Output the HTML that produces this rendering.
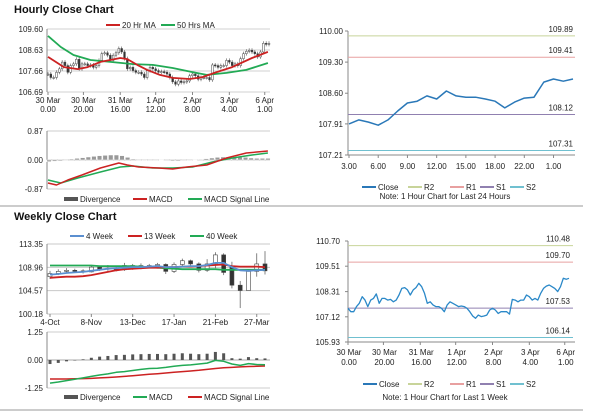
<!DOCTYPE html>
<html><head><meta charset="utf-8"><style>
body{margin:0;background:#fff;width:600px;height:413px;overflow:hidden}
svg{display:block;font-family:"Liberation Sans",sans-serif}
text{font-size:8px;fill:#222}
.t{font-size:11px;font-weight:bold;fill:#111}
</style></head><body>
<svg id="s" width="600" height="413" viewBox="0 0 600 413">
<text class="t" x="14" y="13">Hourly Close Chart</text>
<text class="t" x="14" y="220">Weekly Close Chart</text>
<line x1="0" y1="206" x2="583" y2="206" stroke="#999" stroke-width="1"/>
<line x1="0" y1="410" x2="583" y2="410" stroke="#999" stroke-width="1"/>
</svg>
<script>
// ---- data ----
const hourClose=[107.52,107.36,107.36,107.60,107.76,108.07,107.91,107.60,107.91,107.99,108.20,107.76,107.99,107.99,107.91,107.94,107.83,107.91,108.15,108.46,108.50,108.39,108.15,108.39,108.50,108.70,108.54,108.23,107.76,107.83,107.68,107.60,107.60,107.52,107.36,107.68,107.83,107.76,107.68,107.60,107.63,107.60,107.52,107.36,107.16,107.05,107.20,107.13,107.16,107.20,107.44,107.52,107.44,107.28,107.36,107.36,107.36,107.25,107.94,107.91,107.83,107.91,107.91,108.15,108.07,107.91,107.99,107.91,108.23,108.46,108.57,108.62,108.54,108.46,108.31,108.54,108.94,108.89,108.94];
const hourLabels=[["30 Mar","0.00"],["30 Mar","20.00"],["31 Mar","16.00"],["1 Apr","12.00"],["2 Apr","8.00"],["3 Apr","4.00"],["6 Apr","1.00"]];
const hourLabelIdx=[0,12.5,25.5,38,51,64,76.5];
const ma20Idx=[0,5.6,10.5,14,18.5,22,25.5,28,31.5,35,39.5,44,50,54.5,59.5,65,72,77.6];
const ma20=[108.31,107.84,107.75,107.84,108.08,108.17,108.26,108.21,107.94,107.71,107.48,107.34,107.29,107.38,107.61,107.84,108.26,108.54];
const ma50Idx=[0,4.5,9,15,22,30,37,44,51,56,63,70,77.6];
const ma50=[109.28,108.77,108.40,108.17,108.08,107.98,107.94,107.80,107.61,107.48,107.57,107.71,108.03];
const hMacdIdx=[0,3,7,12,18.5,25,28,32,39,44,49,56,63,70,77.6];
const hMacd=[-0.69,-0.75,-0.60,-0.45,-0.24,-0.09,-0.15,-0.21,-0.24,-0.27,-0.21,-0.15,0.06,0.21,0.27];
const hSigIdx=[0,4.5,10.5,18.5,25.5,30,37,44,51,58,65,72,77.6];
const hSig=[-0.60,-0.69,-0.54,-0.36,-0.21,-0.18,-0.24,-0.24,-0.21,-0.06,0.06,0.15,0.21];
const hDiv=[-0.05,-0.04,-0.03,0.0,0.03,0.05,0.07,0.09,0.11,0.13,0.14,0.15,0.15,0.13,0.08,0.03,0.0,-0.01,0.0,0.0,0.01,-0.02,-0.03,-0.03,-0.02,0.0,0.01,0.02,0.04,0.06,0.08,0.09,0.09,0.08,0.09,0.08,0.06,0.05,0.05,0.05];
const dayClose=[107.91,108.0,107.95,107.88,108.0,108.2,108.38,108.42,108.54,108.47,108.65,108.54,108.51,108.51,108.47,108.42,108.27,108.40,108.49,108.51,108.85,108.92,108.87,108.92];
const dayLabels=["3.00","6.00","9.00","12.00","15.00","18.00","22.00","1.00"];
const dayLabelIdx=[0,3,6,9,12,15,18,21];
const dayLevels=[109.89,109.41,108.12,107.31];
const weekLevels=[110.48,109.70,107.53,106.14];
const wOpen=[107.2,107.8,108.2,108.4,108.3,108.1,109.0,108.6,108.8,108.5,109.3,108.9,109.3,109.3,109.5,108.2,109.5,110.2,109.6,108.4,109.6,111.3,109.2,105.6,104.6,108.2,109.6];
const wClose=[107.8,108.2,108.4,108.3,108.1,109.0,108.6,108.8,108.5,109.3,108.9,109.3,109.3,109.5,108.2,109.5,110.2,109.6,108.4,109.6,111.3,108.0,105.6,104.6,108.2,109.6,108.3];
const wHigh=[108.3,108.6,108.8,108.7,108.6,109.3,109.3,109.4,109.2,109.8,109.6,109.7,109.6,109.8,109.7,109.9,110.6,110.4,109.9,110.5,111.8,111.6,110.0,106.4,108.6,111.6,112.0];
const wLow=[106.8,107.5,107.9,108.0,107.8,108.0,108.3,108.3,108.2,108.3,108.5,108.6,108.9,109.0,107.7,107.9,109.2,109.2,108.0,108.1,108.8,107.5,105.0,101.3,105.4,107.2,107.6];
const w4=[107.6,107.7,107.9,108.0,108.1,108.3,108.5,108.7,108.8,108.9,109.0,109.0,109.1,109.2,109.0,109.0,109.1,109.2,109.2,109.4,109.8,109.8,109.0,108.4,108.3,108.4,108.5];
const w13=[107.0,107.1,107.2,107.2,107.3,107.5,107.8,108.1,108.4,108.6,108.7,108.8,108.9,108.9,109.0,109.0,109.1,109.1,109.2,109.3,109.4,109.5,109.2,109.1,109.1,109.1,109.0];
const w40=[109.3,109.3,109.3,109.3,109.3,109.3,109.2,109.2,109.2,109.2,109.2,109.1,109.0,108.9,108.8,108.7,108.6,108.6,108.6,108.6,108.6,108.5,108.5,108.5,108.5,108.5,108.5];
const weekLabels=["4-Oct","8-Nov","13-Dec","17-Jan","21-Feb","27-Mar"];
const weekLabelIdx=[0,5,10,15,20,25];
const wMacd=[-1.03,-0.98,-0.92,-0.86,-0.80,-0.73,-0.67,-0.62,-0.55,-0.52,-0.47,-0.42,-0.38,-0.37,-0.33,-0.28,-0.24,-0.22,-0.18,-0.14,-0.02,-0.06,-0.18,-0.24,-0.16,-0.20,-0.21];
const wSig=[-0.85,-0.85,-0.85,-0.84,-0.83,-0.82,-0.80,-0.78,-0.76,-0.73,-0.70,-0.67,-0.64,-0.61,-0.58,-0.55,-0.52,-0.49,-0.46,-0.42,-0.38,-0.35,-0.33,-0.31,-0.29,-0.28,-0.27];
const wDiv=[-0.18,-0.13,-0.06,-0.01,0.03,0.10,0.15,0.18,0.22,0.23,0.25,0.26,0.27,0.27,0.26,0.28,0.30,0.28,0.26,0.28,0.36,0.30,0.08,0.06,0.13,0.08,0.07];

// ---- helpers ----
const S=document.getElementById('s');const NS='http://www.w3.org/2000/svg';
function mk(tag,a,txt){const e=document.createElementNS(NS,tag);for(const k in a)e.setAttribute(k,a[k]);if(txt!==undefined)e.textContent=txt;S.appendChild(e);return e;}
function lin(d0,d1,r0,r1){return v=>r0+(v-d0)/(d1-d0)*(r1-r0);}
function poly(xs,ys,color,w,name){const p=xs.map((x,i)=>x.toFixed(1)+','+ys[i].toFixed(1)).join(' ');const e=mk('polyline',{points:p,fill:'none',stroke:color,'stroke-width':w,'stroke-linejoin':'round'});

return e;}
function txt(x,y,s,anchor,name,extra){const e=mk('text',Object.assign({x:x,y:y,'text-anchor':anchor||'start'},extra||{}),s);

return e;}
function hl(x1,x2,y,color,name,w){const e=mk('line',{x1:x1,x2:x2,y1:y,y2:y,stroke:color,'stroke-width':w||1});

return e;}
function vl(x,y1,y2,color,name){const e=mk('line',{x1:x,x2:x,y1:y1,y2:y2,stroke:color,'stroke-width':1});

return e;}
function legLine(x,y,color,label,name){hl(x,x+14,y,color,name+'-swatch',2);txt(x+16,y+3,label,'start',name);}
function legBox(x,y,label,name){const r=mk('rect',{x:x,y:y-2,width:14,height:4,fill:'#555'});

txt(x+16,y+3,label,'start',name);}

// ---- hourly candles (top-left) ----
(function(){const X=lin(0,78,48,269),Y=lin(109.60,106.69,29,92);
[109.60,108.63,107.66,106.69].forEach((t,i)=>{hl(47,270,Y(t),'#d0d0d0','hourly-grid-'+i);txt(43,Y(t)+3,t.toFixed(2),'end','hourly-y-tick-'+i);});
vl(47,29,92,'#888','hourly-y-axis');
hourLabelIdx.forEach((ix,i)=>{vl(X(ix),92,95,'#888','hourly-x-tickmark-'+i);txt(X(ix),103,hourLabels[i][0],'middle','hourly-x-label-'+i);txt(X(ix),112,hourLabels[i][1],'middle','hourly-x-label2-'+i);});
hourClose.forEach((c,i)=>{const o=i?hourClose[i-1]:c;const y1=Y(Math.max(o,c)),y2=Y(Math.min(o,c));
const w=mk('line',{x1:X(i),x2:X(i),y1:y1-2,y2:y2+2,stroke:'#555','stroke-width':0.6});


const r=mk('rect',{x:X(i)-0.9,y:y1,width:1.8,height:Math.max(1,y2-y1),fill:c<o?'#333':'#fff',stroke:'#444','stroke-width':0.5});

});
poly(ma50Idx.map(X),ma50.map(Y),'#22aa55',1.8,'ma50-line');
poly(ma20Idx.map(X),ma20.map(Y),'#cc2222',1.8,'ma20-line');
legLine(106,25,'#cc2222','20 Hr MA','legend-20hr-ma');legLine(161,25,'#22aa55','50 Hrs MA','legend-50hr-ma');
// MACD
const Ym=lin(0.87,-0.87,131,189),Xd=lin(0,39,49,268);
[0.87,0,-0.87].forEach((t,i)=>txt(43,Ym(t)+3,t.toFixed(2),'end','hourly-macd-tick-'+i));
hl(47,270,131,'#ccc','hourly-macd-top');hl(47,270,Ym(0),'#aaa','hourly-macd-zero');hl(47,270,189,'#ccc','hourly-macd-bottom');vl(47,131,189,'#888','hourly-macd-axis');
hDiv.forEach((v,i)=>{const y0=Ym(0),y=Ym(v);const r=mk('rect',{x:Xd(i)-2.3,y:Math.min(y0,y),width:4.6,height:Math.max(0.6,Math.abs(y-y0)),fill:'#999',stroke:'#fff','stroke-width':0.5});

});
poly(hSigIdx.map(X),hSig.map(Ym),'#22aa55',1.5,'hourly-macd-signal');
poly(hMacdIdx.map(X),hMacd.map(Ym),'#cc2222',1.5,'hourly-macd-line');
legBox(64,199,'Divergence','legend-divergence');legLine(133,199,'#cc2222','MACD','legend-macd');legLine(188,199,'#22aa55','MACD Signal Line','legend-macd-signal');
})();

// ---- 24h line (top-right) ----
(function(){const X=lin(0,23,349,573),Y=lin(110.00,107.21,31,155);
[110.00,109.30,108.60,107.91,107.21].forEach((t,i)=>{txt(343,Y(t)+3,t.toFixed(2),'end','day-y-tick-'+i);hl(345,348,Y(t),'#888','day-y-tickmark-'+i);});
vl(348,31,155,'#888','day-y-axis');hl(348,575,155,'#888','day-x-axis');
dayLabelIdx.forEach((ix,i)=>{vl(X(ix),155,158,'#888','day-x-tickmark-'+i);txt(X(ix),169,dayLabels[i],'middle','day-x-label-'+i);});
const cols=['#c8d49a','#e8a0a0','#9080b0','#70c0d0'],nm=['r2','r1','s1','s2'];
dayLevels.forEach((v,i)=>{hl(348,575,Y(v),cols[i],'day-'+nm[i]+'-line');txt(573,Y(v)-4,v.toFixed(2),'end','day-'+nm[i]+'-label',{'font-size':'9'});});
poly(dayClose.map((v,i)=>X(i)),dayClose.map(Y),'#2a78b8',1.5,'day-close-line');
legLine(362,187,'#2a78b8','Close','legend-close');legLine(408,187,cols[0],'R2','legend-r2');legLine(450,187,cols[1],'R1','legend-r1');legLine(480,187,cols[2],'S1','legend-s1');legLine(510,187,cols[3],'S2','legend-s2');
txt(445,199,'Note: 1 Hour Chart for Last 24 Hours','middle','day-note',{'font-size':'7'});
})();

// ---- weekly candles (bottom-left) ----
(function(){const X=lin(0,26,50,265),Y=lin(113.35,100.18,244,314);
[113.35,108.96,104.57,100.18].forEach((t,i)=>{hl(47,270,Y(t),'#c8c8c8','weekly-grid-'+i);txt(43,Y(t)+3,t.toFixed(2),'end','weekly-y-tick-'+i);});
vl(47,244,314,'#888','weekly-y-axis');
weekLabelIdx.forEach((ix,i)=>{vl(X(ix),314,317,'#888','weekly-x-tickmark-'+i);txt(X(ix),325,weekLabels[i],'middle','weekly-x-label-'+i);});
wOpen.forEach((o,i)=>{const c=wClose[i];const w=mk('line',{x1:X(i),x2:X(i),y1:Y(wHigh[i]),y2:Y(wLow[i]),stroke:'#666','stroke-width':0.8});


const y1=Y(Math.max(o,c)),y2=Y(Math.min(o,c));const r=mk('rect',{x:X(i)-2,y:y1,width:4,height:Math.max(1,y2-y1),fill:c<o?'#333':'#fff',stroke:'#444','stroke-width':0.6});

});
const xs=w4.map((v,i)=>X(i));
poly(xs,w40.map(Y),'#22aa55',1.8,'week40-line');poly(xs,w13.map(Y),'#cc2222',1.8,'week13-line');poly(xs,w4.map(Y),'#5b8fd0',1.8,'week4-line');
legLine(70,236,'#5b8fd0','4 Week','legend-4-week');legLine(128,236,'#cc2222','13 Week','legend-13-week');legLine(190,236,'#22aa55','40 Week','legend-40-week');
const Ym=lin(1.25,-1.25,332,388);
[1.25,0,-1.25].forEach((t,i)=>txt(43,Ym(t)+3,t.toFixed(2),'end','weekly-macd-tick-'+i));
hl(47,270,332,'#ccc','weekly-macd-top');hl(47,270,Ym(0),'#aaa','weekly-macd-zero');hl(47,270,388,'#ccc','weekly-macd-bottom');vl(47,332,388,'#888','weekly-macd-axis');
wDiv.forEach((v,i)=>{const y0=Ym(0),y=Ym(v);const r=mk('rect',{x:X(i)-1.5,y:Math.min(y0,y),width:3,height:Math.max(0.5,Math.abs(y-y0)),fill:'#555'});

});
poly(xs,wSig.map(Ym),'#cc2222',1.5,'weekly-macd-signal');poly(xs,wMacd.map(Ym),'#22aa55',1.5,'weekly-macd-line');
legBox(64,397,'Divergence','legend-weekly-divergence');legLine(133,397,'#22aa55','MACD','legend-weekly-macd');legLine(188,397,'#cc2222','MACD Signal Line','legend-weekly-macd-signal');
})();

// ---- 1 week line (bottom-right) ----
(function(){const X=lin(0,78,348,569),Y=lin(110.70,105.93,241,342);
[110.70,109.51,108.31,107.12,105.93].forEach((t,i)=>{txt(340,Y(t)+3,t.toFixed(2),'end','week-line-y-tick-'+i);hl(345,348,Y(t),'#888','week-line-y-tickmark-'+i);});
vl(348,241,342,'#888','week-line-y-axis');hl(348,575,342,'#888','week-line-x-axis');
hourLabelIdx.forEach((ix,i)=>{vl(X(ix),342,345,'#888','week-line-x-tickmark-'+i);txt(X(ix)+1,355,hourLabels[i][0],'middle','week-line-x-label-'+i);txt(X(ix)+1,365,hourLabels[i][1],'middle','week-line-x-label2-'+i);});
const cols=['#c8d49a','#e8a0a0','#9080b0','#70c0d0'],nm=['r2','r1','s1','s2'];
weekLevels.forEach((v,i)=>{hl(348,573,Y(v),cols[i],'week-'+nm[i]+'-line');txt(570,Y(v)-4,v.toFixed(2),'end','week-'+nm[i]+'-label',{'font-size':'9'});});
poly(hourClose.map((v,i)=>X(i)),hourClose.map(Y),'#2a88c8',1.3,'week-close-line');
legLine(363,384,'#2a78b8','Close','legend-week-close');legLine(408,384,cols[0],'R2','legend-week-r2');legLine(450,384,cols[1],'R1','legend-week-r1');legLine(480,384,cols[2],'S1','legend-week-s1');legLine(510,384,cols[3],'S2','legend-week-s2');
txt(445,400,'Note: 1 Hour Chart for Last 1 Week','middle','week-note',{'font-size':'7'});
})();
</script>
</body></html>
